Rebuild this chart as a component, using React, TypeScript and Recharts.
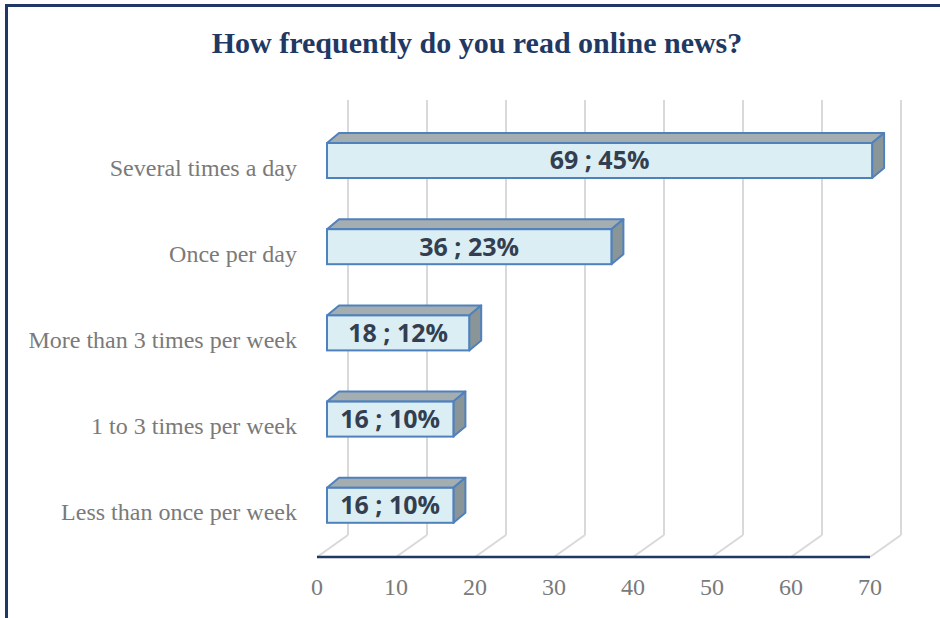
import { BarChart, Bar, XAxis, YAxis, CartesianGrid, LabelList } from "recharts";

const categories = [
  "Several times a day",
  "Once per day",
  "More than 3 times per week",
  "1 to 3 times per week",
  "Less than once per week",
];
const counts = [69, 36, 18, 16, 16];
const percents = [45, 23, 12, 10, 10];
const xTicks = [0, 10, 20, 30, 40, 50, 60, 70];

const data = categories.map((name, i) => ({
  name,
  value: counts[i],
  label: `${counts[i]} ; ${percents[i]}%`,
}));

// depth of the 3d look
const FLOOR_DX = 10; // front of floor is left of the bar face
const BACK_DX = 21; // back wall is right of the bar face
const FLOOR_DROP = 9; // floor sits below the last band
const BAR_DX = 12;
const BAR_DY = 10;

const GRAY = "#7a7a7a";
const NAVY = "#1f3864";

function Bar3D(props: any) {
  const { x, y, width, height } = props;
  if (width == null || height == null) return null;
  const w = width;
  const h = height;
  return (
    <g>
      <polygon
        points={`${x},${y} ${x + BAR_DX},${y - BAR_DY} ${x + w + BAR_DX},${y - BAR_DY} ${x + w},${y}`}
        fill="#a4adb0"
        stroke="#4f81bd"
        strokeWidth={2}
        strokeLinejoin="round"
      />
      <polygon
        points={`${x + w},${y} ${x + w + BAR_DX},${y - BAR_DY} ${x + w + BAR_DX},${y + h - BAR_DY} ${x + w},${y + h}`}
        fill="#8a9597"
        stroke="#4f81bd"
        strokeWidth={2}
        strokeLinejoin="round"
      />
      <rect x={x} y={y} width={w} height={h} fill="#dbeef4" stroke="#4f81bd" strokeWidth={2} />
    </g>
  );
}

function gridLine(p: any) {
  const { x1, y1, y2 } = p;
  const floorY = y2 + FLOOR_DROP;
  const backY = floorY - 22;
  return (
    <g key={p.key ?? `g-${x1}`}>
      <line x1={x1 - FLOOR_DX} y1={floorY} x2={x1 + BACK_DX} y2={backY} stroke="#d9d9d9" strokeWidth={2} />
      <line x1={x1 + BACK_DX} y1={backY} x2={x1 + BACK_DX} y2={y1 - 17} stroke="#d9d9d9" strokeWidth={2} />
    </g>
  );
}

function XTick(props: any) {
  const { x, y, payload } = props;
  return (
    <text x={x - FLOOR_DX} y={y} dy="0.71em" textAnchor="middle" fill={GRAY} fontSize={24} fontFamily="'Liberation Serif', 'Times New Roman', serif">
      {payload.value}
    </text>
  );
}

function YTick(props: any) {
  const { x, y, payload } = props;
  return (
    <text x={x} y={y + 7} dy="0.35em" textAnchor="end" fill={GRAY} fontSize={24} fontFamily="'Liberation Serif', 'Times New Roman', serif">
      {payload.value}
    </text>
  );
}

export default function App() {
  return (
    <div style={{ position: "absolute", left: 0, top: 0, width: 940, height: 618, overflow: "hidden", background: "#fff" }}>
      <div
        style={{
          position: "absolute",
          left: 5,
          top: 4,
          width: 960,
          height: 640,
          borderLeft: `3px solid ${NAVY}`,
          borderTop: `3px solid ${NAVY}`,
        }}
      />
      <div
        style={{
          position: "absolute",
          left: 0,
          top: 28,
          width: 954,
          textAlign: "center",
          fontFamily: "'Liberation Serif', 'Times New Roman', serif",
          fontWeight: "bold",
          fontSize: 30,
          lineHeight: "30px",
          color: NAVY,
        }}
      >
        How frequently do you read online news?
      </div>
      <div style={{ position: "absolute", left: 0, top: 0 }}>
        <BarChart
          width={940}
          height={618}
          data={data}
          layout="vertical"
          margin={{ top: 117, right: 60, bottom: 20, left: 0 }}
        >
          <CartesianGrid horizontal={false} vertical={gridLine} />
          <XAxis
            type="number"
            domain={[0, 70]}
            ticks={xTicks}
            interval={0}
            height={50}
            tickLine={false}
            tickMargin={24}
            axisLine={{ stroke: NAVY, strokeWidth: 2.5, transform: `translate(${-FLOOR_DX},${FLOOR_DROP})` }}
            tick={<XTick />}
          />
          <YAxis
            type="category"
            dataKey="name"
            width={327}
            tickLine={false}
            axisLine={false}
            tickMargin={24}
            tick={<YTick />}
            interval={0}
          />
          <Bar dataKey="value" barSize={35} shape={<Bar3D />} isAnimationActive={false}>
            <LabelList
              dataKey="label"
              position="center"
              fill="#333f50"
              fontSize={25}
              fontWeight="bold"
              fontFamily="'Open Sans', sans-serif"
            />
          </Bar>
        </BarChart>
      </div>
    </div>
  );
}
